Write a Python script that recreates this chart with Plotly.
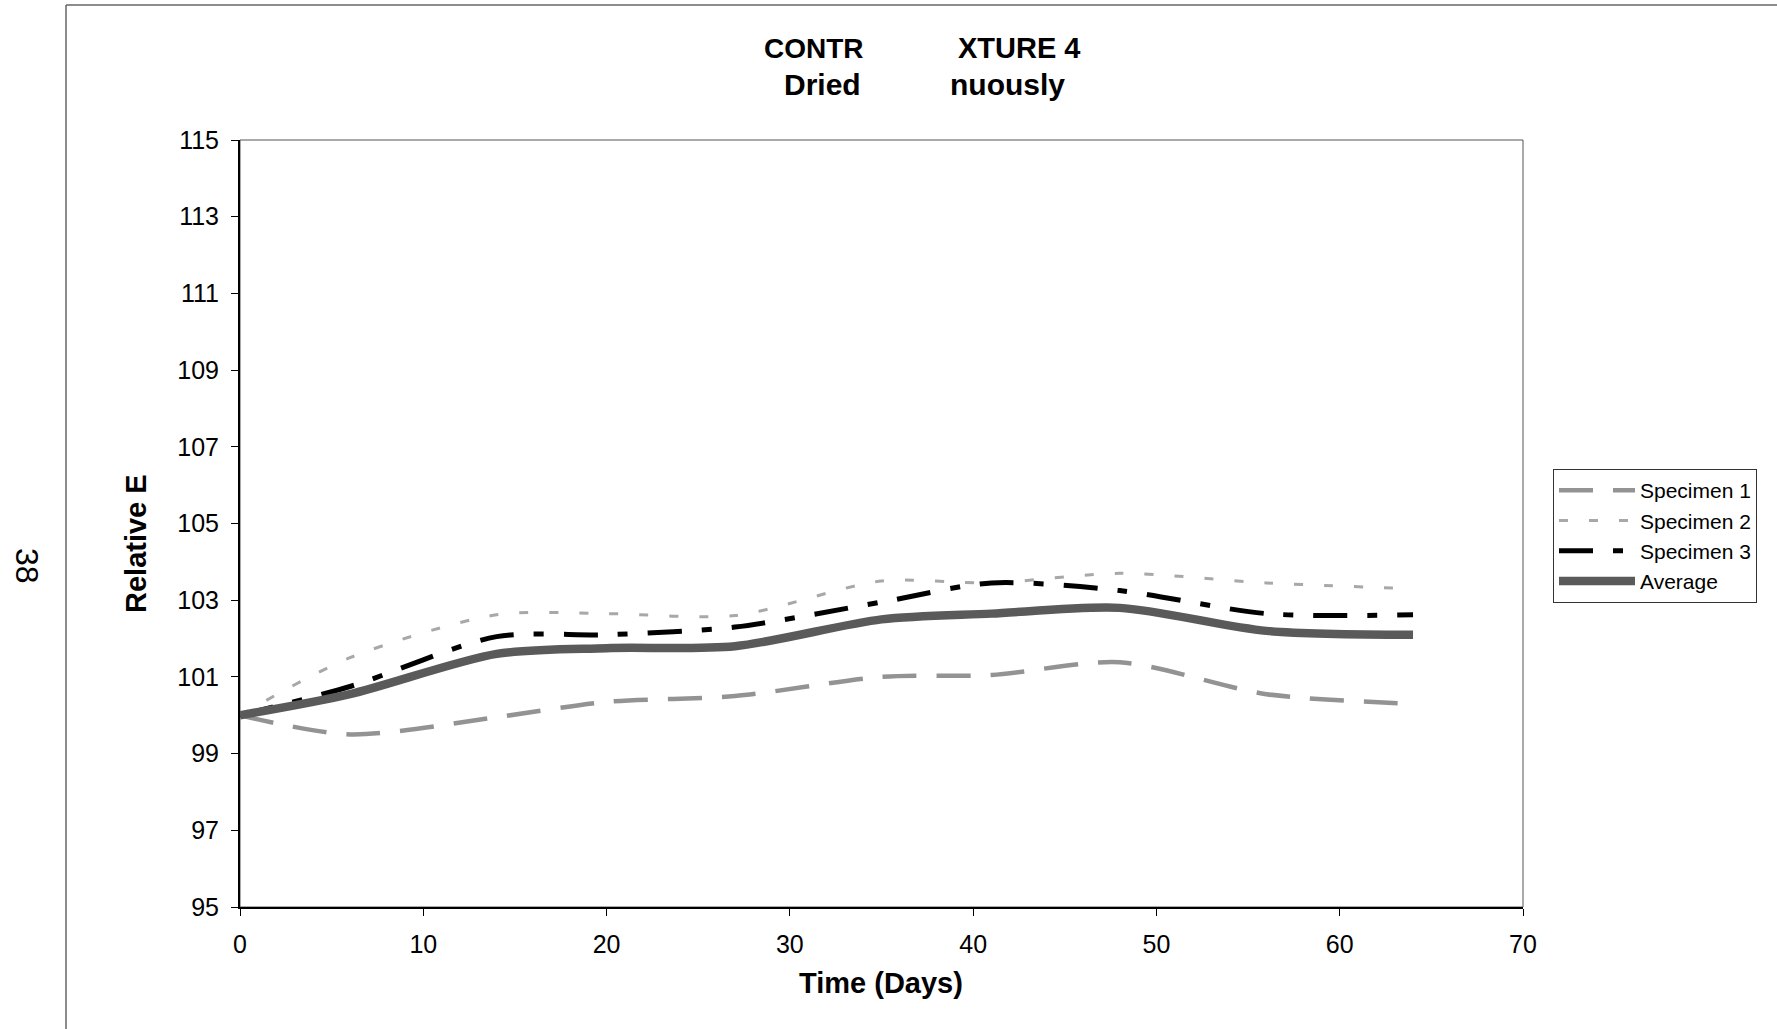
import plotly.graph_objects as go

days = [0, 6, 14, 20, 27, 35, 41, 48, 56, 64]
specimen1 = [100.0, 99.5, 99.95, 100.35, 100.5, 101.0, 101.05, 101.38, 100.55, 100.3]
specimen2 = [100.0, 101.5, 102.62, 102.65, 102.6, 103.5, 103.45, 103.7, 103.45, 103.3]
specimen3 = [100.0, 100.75, 102.05, 102.1, 102.3, 102.95, 103.45, 103.25, 102.65, 102.62]
average = [100.0, 100.55, 101.6, 101.75, 101.8, 102.5, 102.65, 102.8, 102.2, 102.1]

y_ticks = list(range(95, 116, 2))
x_ticks = list(range(0, 71, 10))

W, H = 1777, 1029
L, R, T, B = 240, 1523, 140, 907

def px(X):
    return (X - L) / (R - L)

def py(Y):
    return (B - Y) / (B - T)

FONT = "Liberation Sans, Arial, sans-serif"

fig = go.Figure()
fig.add_trace(go.Scatter(x=days, y=specimen1, name="Specimen 1", mode="lines",
                         line=dict(color="#939393", width=4.5, dash="34px,20px", shape="spline", smoothing=0.8)))
fig.add_trace(go.Scatter(x=days, y=specimen2, name="Specimen 2", mode="lines",
                         line=dict(color="#a8a8a8", width=3, dash="9px,21px", shape="spline", smoothing=0.8)))
fig.add_trace(go.Scatter(x=days, y=specimen3, name="Specimen 3", mode="lines",
                         line=dict(color="#000000", width=5, dash="34px,20px,10px,20px", shape="spline", smoothing=0.8)))
fig.add_trace(go.Scatter(x=days, y=average, name="Average", mode="lines",
                         line=dict(color="#5a5a5a", width=8.5, shape="spline", smoothing=0.8)))

fig.update_layout(
    width=W, height=H,
    margin=dict(l=L, r=W - R, t=T, b=H - B),
    paper_bgcolor="white", plot_bgcolor="white",
    font=dict(family=FONT, color="black"),
    showlegend=True,
    legend=dict(x=px(1553), y=py(469), xanchor="left", yanchor="top",
                bordercolor="#333333", borderwidth=1, bgcolor="white",
                font=dict(size=21, family=FONT), itemwidth=76,
                tracegroupgap=0),
    xaxis=dict(range=[0, 70], tickvals=x_ticks, ticks="outside", ticklen=7,
               tickcolor="black", showline=True, linecolor="black", linewidth=2,
               showgrid=False, zeroline=False, tickfont=dict(size=25, family=FONT),
               ticklabelstandoff=7),
    yaxis=dict(range=[95, 115], tickvals=y_ticks, ticks="outside", ticklen=7,
               tickcolor="black", showline=True, linecolor="black", linewidth=2,
               showgrid=False, zeroline=False, tickfont=dict(size=25, family=FONT),
               ticklabelstandoff=7),
)

shapes = [
    dict(type="rect", xref="paper", yref="paper", x0=0, y0=0, x1=1, y1=1,
         line=dict(color="#555555", width=1), layer="below"),
    dict(type="line", xref="paper", yref="paper", x0=px(66), x1=px(66), y0=py(5), y1=py(1029),
         line=dict(color="#666666", width=1.5)),
    dict(type="line", xref="paper", yref="paper", x0=px(66), x1=px(1777), y0=py(5), y1=py(5),
         line=dict(color="#666666", width=1.5)),
]
fig.update_layout(shapes=shapes)

ann = [
    dict(text="<b>CONTR</b>", x=px(866), y=py(48), xanchor="right", yanchor="middle", font=dict(size=28)),
    dict(text="<b>XTURE 4</b>", x=px(956), y=py(48), xanchor="left", yanchor="middle", font=dict(size=29)),
    dict(text="<b>Dried</b>", x=px(863), y=py(84), xanchor="right", yanchor="middle", font=dict(size=30)),
    dict(text="<b>nuously</b>", x=px(1067), y=py(84), xanchor="right", yanchor="middle", font=dict(size=30)),
    dict(text="<b>Time (Days)</b>", x=px(881), y=py(983), xanchor="center", yanchor="middle", font=dict(size=29)),
    dict(text="<b>Relative E</b>", x=px(136), y=py(544), xanchor="center", yanchor="middle", textangle=-90,
         font=dict(size=29)),
    dict(text="38", x=px(27), y=py(566), xanchor="center", yanchor="middle", textangle=90, font=dict(size=32)),
]
for a in ann:
    a.update(xref="paper", yref="paper", showarrow=False)
    a["font"]["family"] = FONT
    a["font"]["color"] = "black"
fig.update_layout(annotations=ann)

fig.write_html("out.html")
